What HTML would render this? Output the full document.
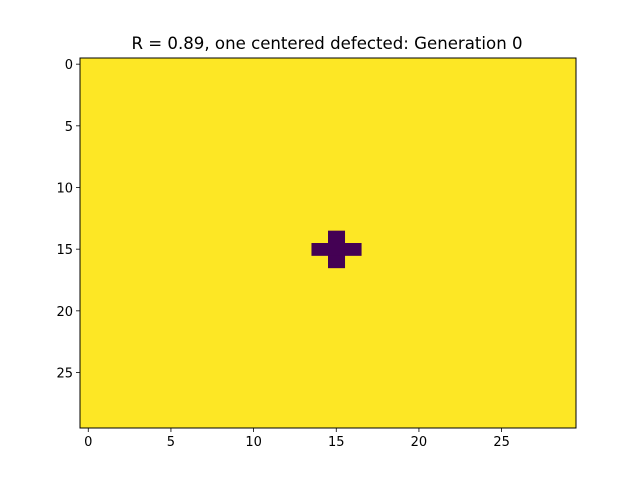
<!DOCTYPE html>
<html><head><meta charset="utf-8">
<style>
body{margin:0;background:#fff;}
svg text{font-family:"DejaVu Sans","Liberation Sans",sans-serif;fill:#000;}
</style></head>
<body>
<svg id="chart" width="640" height="480" viewBox="0 0 640 480" xmlns="http://www.w3.org/2000/svg">
<rect width="640" height="480" fill="#fff"/>
<text x="327" y="49" font-size="16.6" text-anchor="middle">R = 0.89, one centered defected: Generation 0</text>
<g id="plot"></g>
</svg>
<script>
const nRows = 30;
const nCols = 30;
const defectRows = [14, 15, 15, 15, 16];
const defectCols = [15, 14, 15, 16, 15];
const xTicks = [0, 5, 10, 15, 20, 25];
const yTicks = [0, 5, 10, 15, 20, 25];

const L = 80, T = 58, W = 496, H = 370;
const NS = "http://www.w3.org/2000/svg";
const g = document.getElementById('plot');
const cw = W / nCols, ch = H / nRows;
function xs(c){ return L + (c + 0.5) * cw; }
function ys(r){ return T + (r + 0.5) * ch; }
function mk(tag, attrs){ const e = document.createElementNS(NS, tag); for (const k in attrs) e.setAttribute(k, attrs[k]); g.appendChild(e); return e; }

const bg = mk('rect', {x:L, y:T, width:W, height:H, fill:'#fde725'});


for (let i = 0; i < defectRows.length; i++) {
  const r = mk('rect', {x:xs(defectCols[i]) - cw/2, y:ys(defectRows[i]) - ch/2, width:cw + 0.5, height:ch + 0.5, fill:'#440154'});
  
  
}
const fr = mk('rect', {x:L, y:T, width:W, height:H, fill:'none', stroke:'#000', 'stroke-width':1});



xTicks.forEach(v => {
  const x = xs(v);
  const t = mk('line', {x1:x, x2:x, y1:T+H, y2:T+H+4, stroke:'#000', 'stroke-width':0.8});
  
  
  const tx = mk('text', {x:x, y:T+H+18, 'font-size':13, 'text-anchor':'middle'});
  tx.textContent = v;
  
  
});
yTicks.forEach(v => {
  const y = ys(v);
  const t = mk('line', {x1:L-4, x2:L, y1:y, y2:y, stroke:'#000', 'stroke-width':0.8});
  
  
  const tx = mk('text', {x:L-7, y:y+5, 'font-size':13, 'text-anchor':'end'});
  tx.textContent = v;
  
  
});
</script>
</body></html>
